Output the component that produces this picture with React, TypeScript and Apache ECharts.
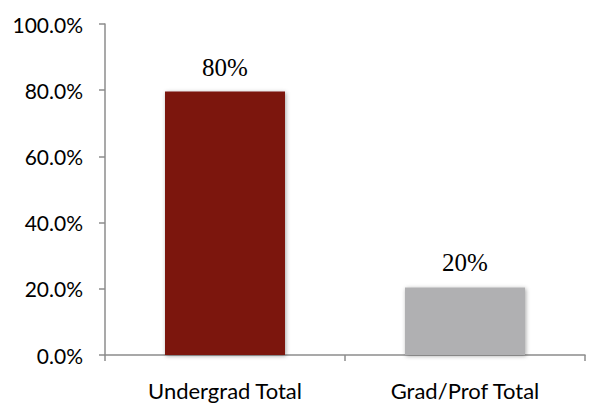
import React, { useEffect, useRef } from "react";
import * as echarts from "echarts";

const categories = ["Undergrad Total", "Grad/Prof Total"];
const values = [79.6, 20.4];
const valueLabels = ["80%", "20%"];
const barColors = ["#7B130F", "#B0B0B2"];

export default function App() {
  const ref = useRef<HTMLDivElement>(null);
  useEffect(() => {
    document.body.style.margin = "0";
    const chart = echarts.init(ref.current!, null, { renderer: "svg" });
    chart.setOption({
      animation: false,
      backgroundColor: "#ffffff",
      grid: { left: 105, right: 5, top: 24, bottom: 49, containLabel: false },
      xAxis: {
        type: "category",
        data: categories,
        axisLine: { lineStyle: { color: "#8C8C8C", width: 1.5 } },
        axisTick: { show: true, length: 6, lineStyle: { color: "#8C8C8C", width: 1.5 } },
        axisLabel: {
          color: "#000",
          fontFamily: "Lato",
          fontSize: 22,
          margin: 24,
        },
      },
      yAxis: {
        type: "value",
        min: 0,
        max: 100,
        interval: 20,
        axisLine: { show: true, lineStyle: { color: "#8C8C8C", width: 1.5 } },
        axisTick: { show: true, length: 6, lineStyle: { color: "#8C8C8C", width: 1.5 } },
        splitLine: { show: false },
        axisLabel: {
          color: "#000",
          fontFamily: "Lato",
          fontSize: 21,
          margin: 22,
          formatter: (v: number) => v.toFixed(1) + "%",
        },
      },
      series: [
        {
          type: "bar",
          barWidth: "50%",
          data: values.map((v, i) => ({
            value: v,
            itemStyle: {
              color: barColors[i],
              shadowColor: "rgba(0,0,0,0.35)",
              shadowBlur: 4,
              shadowOffsetX: 1,
              shadowOffsetY: 1,
            },
            label: {
              show: true,
              position: "top",
              distance: 12,
              formatter: valueLabels[i],
              color: "#000",
              fontFamily: "Liberation Serif",
              fontSize: 25,
            },
          })),
        },
      ],
    });
    return () => chart.dispose();
  }, []);
  return <div ref={ref} style={{ width: 590, height: 404 }} />;
}
